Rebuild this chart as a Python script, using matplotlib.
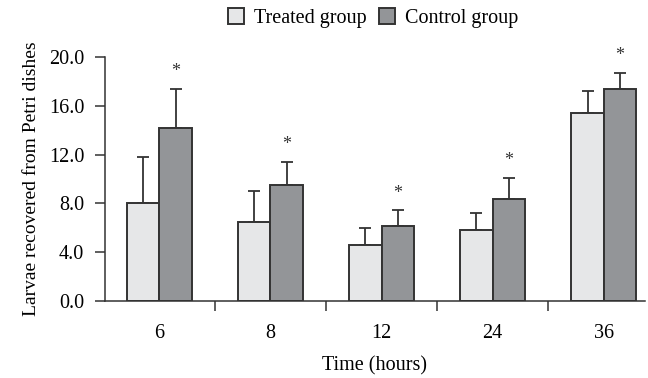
import numpy as np
import matplotlib
matplotlib.use("Agg")
import matplotlib.pyplot as plt
from matplotlib.ticker import FormatStrFormatter, FixedLocator

plt.rcParams['font.family'] = ['Liberation Serif', 'DejaVu Serif']

# data
times = ['6', '8', '12', '24', '36']
treated = [8.0, 6.45, 4.6, 5.85, 15.45]
treated_err = [3.8, 2.55, 1.4, 1.35, 1.75]
control = [14.2, 9.5, 6.15, 8.35, 17.4]
control_err = [3.2, 1.9, 1.3, 1.75, 1.3]

x = np.arange(len(times))
w = 0.29
edge = '#333333'

fig = plt.figure(figsize=(6.48, 3.78), dpi=100)
ax = fig.add_axes([0.162, 0.204, 0.833, 0.645])

ax.bar(x - w / 2, treated, w, color='#e6e7e8', edgecolor=edge, linewidth=1.4,
       label='Treated group', zorder=2)
ax.bar(x + w / 2, control, w, color='#939598', edgecolor=edge, linewidth=1.4,
       label='Control group', zorder=2)

# upper error bars only
ax.errorbar(x - w / 2, treated, yerr=[np.zeros(len(x)), treated_err], fmt='none',
            ecolor=edge, elinewidth=1.3, capsize=4, capthick=1.3, zorder=1)
ax.errorbar(x + w / 2, control, yerr=[np.zeros(len(x)), control_err], fmt='none',
            ecolor=edge, elinewidth=1.3, capsize=4, capthick=1.3, zorder=1)

# significance stars
for xi, c, e in zip(x, control, control_err):
    ax.text(xi + w / 2, c + e + 1.4, '*', ha='center', va='center', fontsize=13,
            color=edge, clip_on=False)

ax.set_xlim(-0.49, 4.37)
ax.set_ylim(0, 20)
ax.set_yticks(np.arange(0, 20.1, 4))
ax.yaxis.set_major_formatter(FormatStrFormatter('%.1f'))

ax.set_xticks(x)
ax.set_xticklabels(times)
ax.xaxis.set_minor_locator(FixedLocator(np.arange(-0.5, 4.0, 1.0)))
ax.tick_params(axis='x', which='major', length=0, pad=17, labelsize=14.5)
ax.tick_params(axis='x', which='minor', length=7, width=1.1, direction='out', color=edge)
ax.tick_params(axis='y', length=7, width=1.1, direction='out', color=edge, labelsize=14.5, pad=8)

for s in ['top', 'right']:
    ax.spines[s].set_visible(False)
for s in ['left', 'bottom']:
    ax.spines[s].set_linewidth(1.1)
    ax.spines[s].set_color(edge)

ax.set_xlabel('Time (hours)', fontsize=14.5, labelpad=9)
ax.set_ylabel('Larvae recovered from Petri dishes', fontsize=14, labelpad=6)

fig.legend(loc='center', bbox_to_anchor=(0.576, 0.952), ncol=2, frameon=False,
           fontsize=14.5, handlelength=0.8, handleheight=0.8, handletextpad=0.5,
           columnspacing=0.6)

fig.savefig('out.png', dpi=100)
